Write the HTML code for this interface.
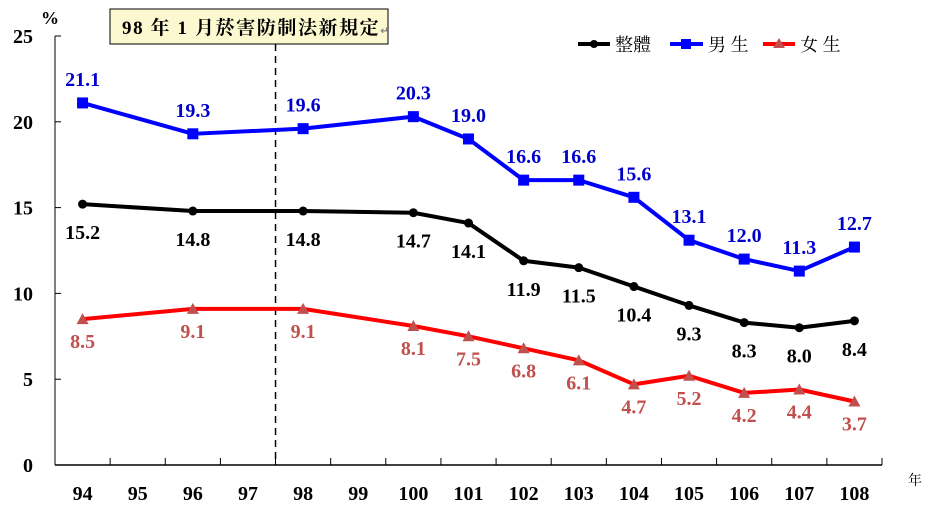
<!DOCTYPE html>
<html><head><meta charset="utf-8"><style>
body{margin:0;background:#fff;}
svg{display:block;font-family:"Liberation Serif","Noto Serif CJK SC",serif;}
</style></head><body>
<svg id="chart" width="926" height="511" viewBox="0 0 926 511">
<g id="axes"></g>
<g id="marks"></g>
<rect x="110" y="9" width="278" height="35" fill="#fcf8cf" stroke="#000" stroke-width="1"/>
<text x="122" y="34" font-size="19" font-weight="bold" letter-spacing="1.6" font-family="Liberation Serif,Noto Serif CJK TC,serif">98 年 1 月菸害防制法新規定<tspan font-size="10" fill="#888">↵</tspan></text>
<text x="41" y="24" font-size="18" font-weight="bold">%</text>
<text x="908" y="485" font-size="14" font-family="Noto Serif CJK TC,serif">年</text>
<g>
<line x1="578" y1="44" x2="610" y2="44" stroke="#000" stroke-width="4"/><circle cx="594" cy="44" r="4" fill="#000"/>
<text x="615" y="51" font-size="18" font-family="Noto Serif CJK TC,serif">整體</text>
<line x1="670" y1="44" x2="703" y2="44" stroke="#0000ff" stroke-width="4"/><rect x="681" y="39" width="10" height="10" fill="#0000ff"/>
<text x="708" y="51" font-size="18" font-family="Noto Serif CJK TC,serif">男 生</text>
<line x1="763" y1="44" x2="795" y2="44" stroke="#ff0000" stroke-width="4"/><polygon points="779,38 785,48 773,48" fill="#c0504d"/>
<text x="800" y="51" font-size="18" font-family="Noto Serif CJK TC,serif">女 生</text>
</g>
</svg>
<script>
const categories=[94,95,96,97,98,99,100,101,102,103,104,105,106,107,108];
const pointYears=[94,96,98,100,101,102,103,104,105,106,107,108];
const overall=[15.2,14.8,14.8,14.7,14.1,11.9,11.5,10.4,9.3,8.3,8.0,8.4];
const male=[21.1,19.3,19.6,20.3,19.0,16.6,16.6,15.6,13.1,12.0,11.3,12.7];
const female=[8.5,9.1,9.1,8.1,7.5,6.8,6.1,4.7,5.2,4.2,4.4,3.7];
const yTicks=[0,5,10,15,20,25];
const NS="http://www.w3.org/2000/svg";
const x0=55,x1=882,yBase=465,yTop=36;
const bw=(x1-x0)/categories.length;
function xPos(yr){return x0+bw*(categories.indexOf(yr)+0.5);}
function yPos(v){return yBase-(v/25)*(yBase-yTop);}
function mk(tag,attrs,parent){const e=document.createElementNS(NS,tag);for(const k in attrs)e.setAttribute(k,attrs[k]);parent.appendChild(e);return e;}
const axes=document.getElementById('axes'),marks=document.getElementById('marks');
let a=mk('line',{x1:x0,y1:yTop,x2:x0,y2:yBase,stroke:'#000','stroke-width':1},axes);


a=mk('line',{x1:x0,y1:yBase,x2:x1,y2:yBase,stroke:'#000','stroke-width':1.5},axes);


yTicks.forEach(t=>{
 mk('line',{x1:x0,y1:yPos(t),x2:x0+6,y2:yPos(t),stroke:'#000'},axes);
 const tx=mk('text',{x:x0-22,y:yPos(t)+7,'text-anchor':'end','font-size':20,'font-weight':'bold'},axes);
 tx.textContent=t;
 
 
});
categories.forEach((c,i)=>{
 const xx=x0+bw*(i+1);
 mk('line',{x1:xx,y1:yBase-7,x2:xx,y2:yBase,stroke:'#000'},axes);
 const tx=mk('text',{x:xPos(c),y:500,'text-anchor':'middle','font-size':20,'font-weight':'bold'},axes);
 tx.textContent=c;
 
 
});
const dl=mk('line',{x1:x0+bw*4,y1:44,x2:x0+bw*4,y2:yBase,stroke:'#000','stroke-width':1.5,'stroke-dasharray':'7,5'},axes);


function series(vals,color,name,labelColor,dy,marker){
 const pts=vals.map((v,i)=>[xPos(pointYears[i]),yPos(v)]);
 const pl=mk('polyline',{points:pts.map(p=>p.join(',')).join(' '),fill:'none',stroke:color,'stroke-width':4,'stroke-linejoin':'round'},marks);
 
 
 pts.forEach((p,i)=>{
  let m;
  if(marker==='circle')m=mk('circle',{cx:p[0],cy:p[1],r:4.5,fill:color},marks);
  else if(marker==='square')m=mk('rect',{x:p[0]-5.5,y:p[1]-5.5,width:11,height:11,fill:color},marks);
  else m=mk('polygon',{points:`${p[0]},${p[1]-6} ${p[0]+6},${p[1]+5} ${p[0]-6},${p[1]+5}`,fill:'#c0504d'},marks);
  
  
  const t=mk('text',{x:p[0],y:p[1]+dy,'text-anchor':'middle','font-size':20,'font-weight':'bold',fill:labelColor},marks);
  t.textContent=vals[i].toFixed(1);
  
  
 });
}
series(overall,'#000','overall','#000',35,'circle');
series(male,'#0000ff','male','#0000cc',-17,'square');
series(female,'#ff0000','female','#c0504d',29,'triangle');
</script>
</body></html>
